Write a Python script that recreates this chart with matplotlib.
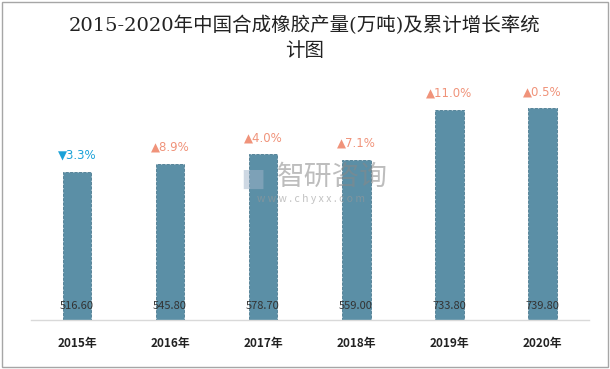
import matplotlib.pyplot as plt
from matplotlib.patches import Rectangle

plt.rcParams['font.family'] = ['Noto Sans CJK SC', 'DejaVu Sans']

years = ['2015年', '2016年', '2017年', '2018年', '2019年', '2020年']
output = [516.60, 545.80, 578.70, 559.00, 733.80, 739.80]
growth = [-3.3, 8.9, 4.0, 7.1, 11.0, 0.5]

bar_color = '#5b8fa6'
up_color = '#f0937a'
down_color = '#1ba2d8'

fig = plt.figure(figsize=(6.10, 3.69), dpi=100)
ax = fig.add_axes([0.05, 0.1328, 0.915, 0.65])

x = range(len(years))
ax.bar(x, output, width=0.31, color=bar_color, edgecolor='#4a7a90',
       linewidth=0.6, linestyle='--', zorder=2)

for i, (v, g) in enumerate(zip(output, growth)):
    ax.annotate('%.2f' % v, (i, 0), xytext=(0, 10), textcoords='offset points',
                ha='center', va='center', fontsize=8, color='#333333', zorder=4)
    if g < 0:
        txt, col = '▼%.1f%%' % abs(g), down_color
    else:
        txt, col = '▲%.1f%%' % g, up_color
    ax.annotate(txt, (i, v), xytext=(0, 12), textcoords='offset points',
                ha='center', va='center', fontsize=8.5, color=col,
                family=['DejaVu Sans'], zorder=4)

ax.set_xlim(-0.5, len(years) - 0.5)
ax.set_ylim(0, 838)
ax.set_xticks(list(x))
ax.set_xticklabels(years, fontsize=8.5, fontweight='bold', color='#222222')
ax.tick_params(axis='x', length=0, pad=12)
ax.set_yticks([])
for s in ['top', 'right', 'left']:
    ax.spines[s].set_visible(False)
ax.spines['bottom'].set_color('#d9d9d9')
ax.spines['bottom'].set_linewidth(1)

# title
title_font = ['DejaVu Serif', 'Noto Sans CJK SC']
fig.text(0.5, 0.932, '2015-2020年中国合成橡胶产量(万吨)及累计增长率统', ha='center',
         va='center', fontsize=14, color='#222222', family=title_font)
fig.text(0.5, 0.862, '计图', ha='center', va='center', fontsize=14,
         color='#222222', family=title_font)

# watermark
fig.text(0.545, 0.52, '智研咨询', ha='center', va='center', fontsize=20,
         color='#888888', alpha=0.55, zorder=5)
fig.text(0.415, 0.52, '▆', ha='center', va='center', fontsize=18,
         color='#9fb3c8', alpha=0.5, zorder=5, family=['DejaVu Sans'])
fig.text(0.51, 0.462, 'w w w . c h y x x . c o m', ha='center', va='center',
         fontsize=7.5, color='#999999', alpha=0.6, zorder=5)

# outer frame
fig.patches.append(Rectangle((0.004, 0.006), 0.992, 0.988, transform=fig.transFigure,
                             fill=False, edgecolor='#a6a6a6', linewidth=1))

fig.savefig('out.png', dpi=100)
